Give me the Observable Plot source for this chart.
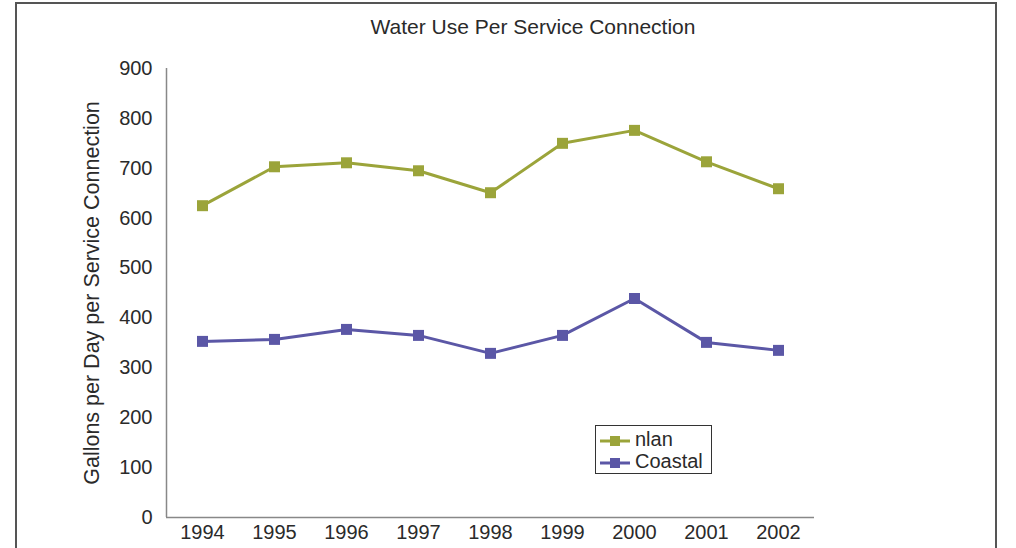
<!DOCTYPE html>
<html>
<head>
<meta charset="utf-8">
<script src="https://cdn.jsdelivr.net/npm/d3@7"></script>
<script src="https://cdn.jsdelivr.net/npm/@observablehq/plot@0.6"></script>
<style>
  html, body { margin: 0; padding: 0; background: #fff; overflow: hidden; }
  body { width: 1016px; height: 548px; position: relative; font-family: "Liberation Sans", Arial, sans-serif; }
  #frame { position: absolute; left: 15px; top: 2px; width: 982px; height: 600px; border: 2px solid #555; box-sizing: border-box; }
  #title { position: absolute; left: 0; width: 1066px; top: 15px; text-align: center; font-size: 21px; color: #2a2a2a; }
  #chart { position: absolute; left: 0; top: 0; }
  #legend { position: absolute; left: 595px; top: 425px; width: 117px; height: 49px; border: 1px solid #333; box-sizing: border-box; background: #fff; font-size: 20px; color: #2a2a2a; }
  .item { position: absolute; left: 4px; height: 22px; line-height: 22px; white-space: nowrap; }
  .item svg { vertical-align: middle; }
  .item span { position: absolute; left: 35px; top: 0; }
</style>
</head>
<body>
<div id="frame"></div>
<div id="chart"></div>
<div id="title">Water Use Per Service Connection</div>
<div id="legend"></div>
<script>
const years = [1994, 1995, 1996, 1997, 1998, 1999, 2000, 2001, 2002];
const seriesNames = ["nlan", "Coastal"];
const inland = [625, 703, 711, 695, 651, 750, 776, 713, 659];
const coastal = [353, 357, 377, 365, 329, 365, 439, 351, 335];
const yTicks = [0, 100, 200, 300, 400, 500, 600, 700, 800, 900];
const yTitle = "Gallons per Day per Service Connection";
const colors = ["#9ba43a", "#5b57a6"];

const data = [
  ...years.map((y, i) => ({year: y, value: inland[i], series: seriesNames[0]})),
  ...years.map((y, i) => ({year: y, value: coastal[i], series: seriesNames[1]}))
];

const chart = Plot.plot({
  width: 1016,
  height: 548,
  marginLeft: 166,
  marginRight: 202,
  marginTop: 68,
  marginBottom: 31,
  style: {fontFamily: "'Liberation Sans', Arial, sans-serif", fontSize: "20px", color: "#2a2a2a", background: "transparent", overflow: "visible"},
  x: {domain: [1993.5, 2002.5], ticks: years, tickFormat: d => String(d), tickSize: 0, tickPadding: 7, label: null},
  y: {domain: [0, 900], ticks: yTicks, tickSize: 0, tickPadding: 14, label: null},
  color: {domain: seriesNames, range: colors},
  marks: [
    Plot.ruleY([0], {stroke: "#888", strokeWidth: 1.5}),
    Plot.ruleX([1993.5], {stroke: "#888", strokeWidth: 1.5}),
    Plot.text([yTitle], {frameAnchor: "left", textAnchor: "middle", lineAnchor: "middle", rotate: -90, dx: -74, text: d => d, fontSize: 21.5, fill: "#2a2a2a"}),
    Plot.line(data, {x: "year", y: "value", z: "series", stroke: "series", strokeWidth: 3}),
    Plot.dot(data, {x: "year", y: "value", fill: "series", symbol: "square", r: 6.2})
  ]
});
document.getElementById("chart").appendChild(chart);

const legend = document.getElementById("legend");
seriesNames.forEach((name, i) => {
  const div = document.createElement("div");
  div.className = "item";
  div.style.top = (2 + i * 22) + "px";
  div.innerHTML = `<svg width="30" height="12"><line x1="0" x2="30" y1="6" y2="6" stroke="${colors[i]}" stroke-width="3"/><rect x="10" y="1" width="10" height="10" fill="${colors[i]}"/></svg><span>${name}</span>`;
  legend.appendChild(div);
});
</script>
</body>
</html>
